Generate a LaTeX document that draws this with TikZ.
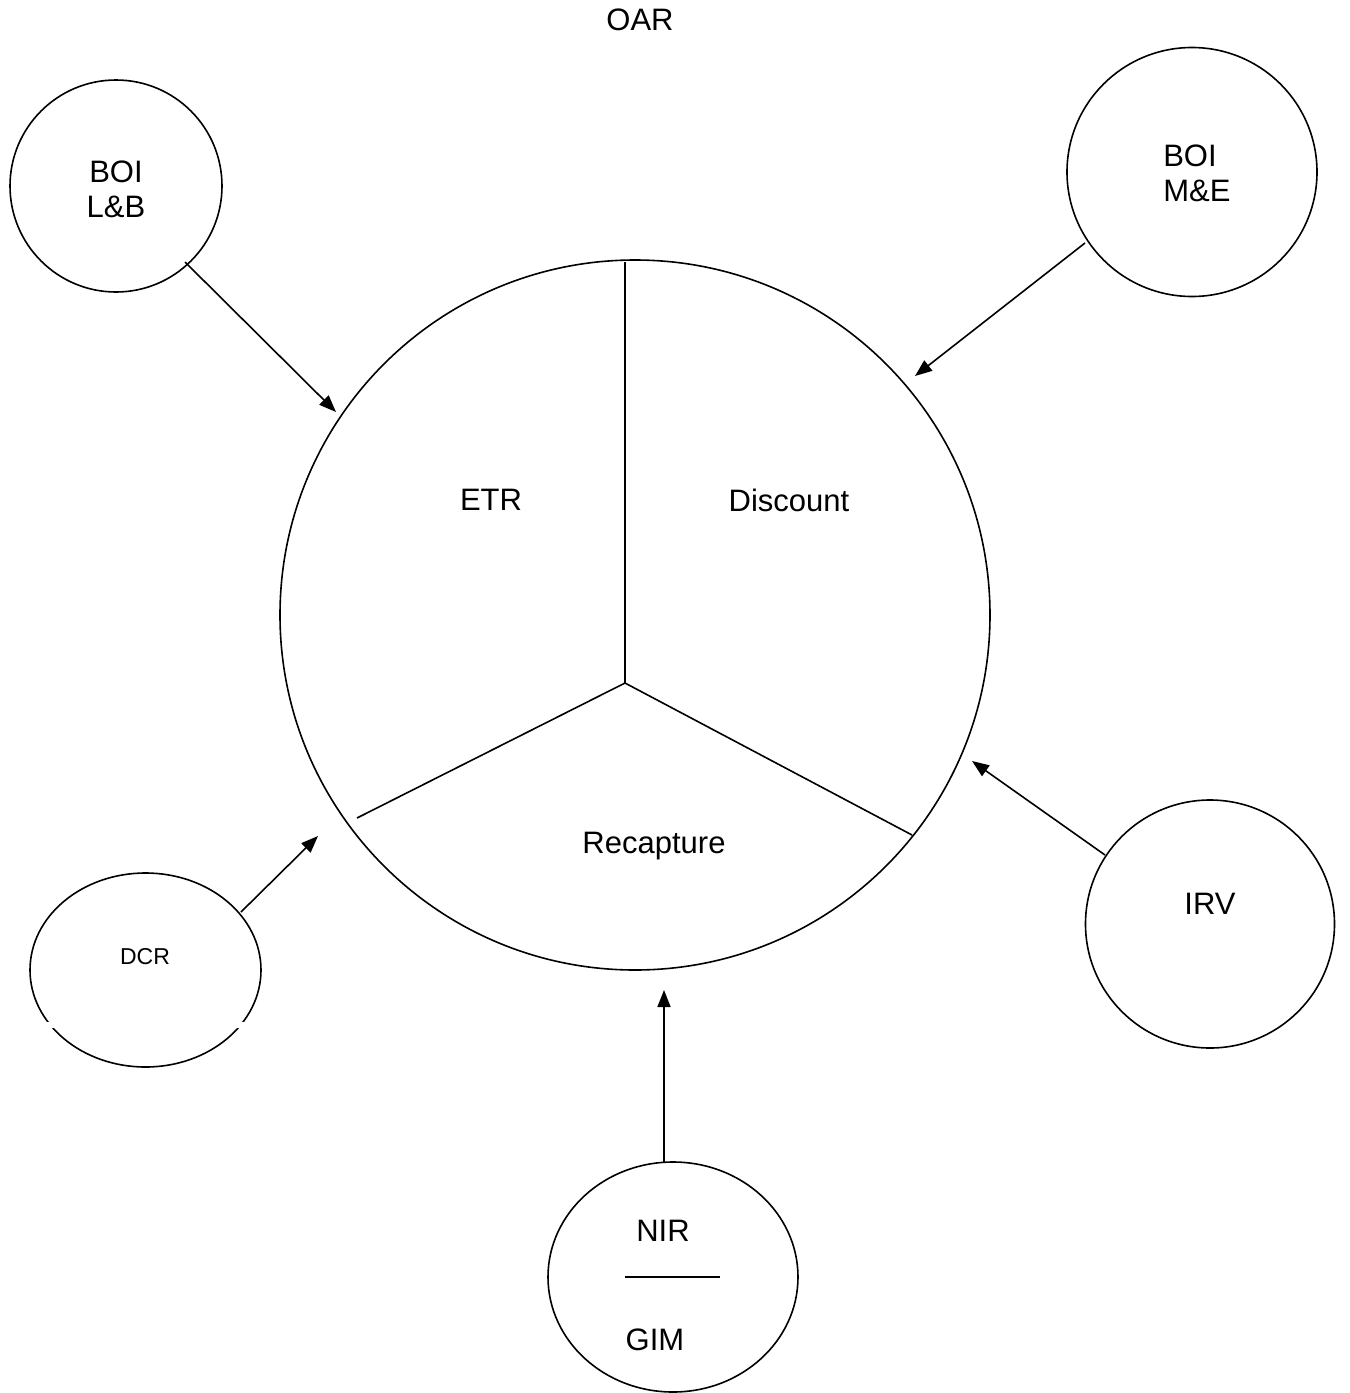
\documentclass[tikz,border=0pt]{standalone}
\usepackage{fontspec}
\setmainfont{Liberation Sans}
\usetikzlibrary{shapes.geometric,arrows.meta}
\begin{document}
\begin{tikzpicture}[x=1pt,y=-1pt,
  ln/.style={line width=1.6pt},
  bub/.style={ellipse,draw,line width=1.6pt,inner sep=0pt},
  lbl/.style={font=\fontsize{31}{36}\selectfont,inner sep=0pt},
  arr/.style={line width=1.6pt,-{Triangle[length=17pt,width=13pt]}}]
\useasboundingbox (0,0) rectangle (1350,1393);
\node[lbl] (oar) at (640,20) {OAR};
% main circle
\node[circle,draw,line width=1.6pt,minimum size=710pt,inner sep=0pt] (main) at (635,615) {};
\coordinate (hub) at (625,683);
\coordinate (top) at (625,262);
\coordinate (ll) at (357,818);
\coordinate (lr) at (912,835);
\draw[ln] (hub) -- (top);
\draw[ln] (hub) -- (ll);
\draw[ln] (hub) -- (lr);
\node[lbl] (etr) at (491,500) {ETR};
\node[lbl] (disc) at (789,500) {Discount};
\node[lbl] (recap) at (654,846) {Recapture};
% BOI L&B
\node[bub,minimum width=212pt,minimum height=212pt] (boilb) at (116,186) {};
\node[lbl] (boilb1) at (116,172) {BOI};
\node[lbl] (boilb2) at (116,207) {L\&B};
\coordinate (a1s) at (185,262);
\coordinate (a1e) at (336,412);
\draw[arr] (a1s) -- (a1e);
% BOI M&E
\node[bub,minimum width=250pt,minimum height=249pt] (boime) at (1192,172) {};
\node[lbl] (boime1) at (1190,156) {BOI};
\node[lbl] (boime2) at (1197,191) {M\&E};
\coordinate (a2s) at (1085,243);
\coordinate (a2e) at (915,376);
\draw[arr] (a2s) -- (a2e);
% IRV
\node[bub,minimum width=249pt,minimum height=248pt] (irv) at (1210,924) {};
\node[lbl] (irvt) at (1210,904) {IRV};
\coordinate (a3s) at (1105,855);
\coordinate (a3e) at (972,761);
\draw[arr] (a3s) -- (a3e);
% DCR
\node[bub,minimum width=231pt,minimum height=194pt] (dcr) at (145.5,970) {};
\node[font=\fontsize{23}{27}\selectfont,inner sep=0pt] (dcrt) at (145,957) {DCR};
\fill[white] (40,1022) rectangle (250,1028);
\coordinate (a4s) at (241,912);
\coordinate (a4e) at (318,836);
\draw[arr] (a4s) -- (a4e);
% NIR / GIM
\node[bub,minimum width=250pt,minimum height=230pt] (nir) at (673,1277) {};
\node[lbl] (nirt) at (663,1231) {NIR};
\coordinate (fl) at (625,1277);
\coordinate (fr) at (720,1277);
\draw[ln] (fl) -- (fr);
\node[lbl] (gimt) at (655,1340) {GIM};
\coordinate (a5s) at (664,1163);
\coordinate (a5e) at (664,990);
\draw[arr] (a5s) -- (a5e);
\end{tikzpicture}
\end{document}
